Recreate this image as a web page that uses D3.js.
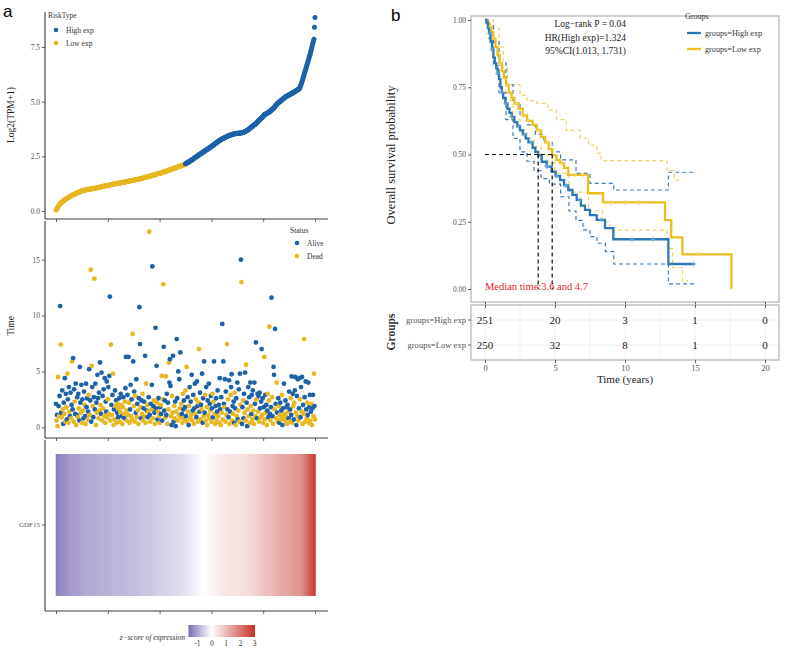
<!DOCTYPE html>
<html><head><meta charset="utf-8">
<script src="https://cdn.jsdelivr.net/npm/d3@7"></script>
<style>body{margin:0;background:#fff}svg{display:block}</style></head>
<body><svg id="c" width="800" height="651"></svg>
<script>
// ---------- DATA: panel a ----------
const riskGroups = ["Low exp", "High exp"];
const riskCounts = [250, 251];
const expr = [
0.05,0.09,0.12,0.15,0.19,0.23,0.28,0.31,0.34,0.36,
0.38,0.40,0.42,0.44,0.46,0.48,0.50,0.51,0.53,0.55,
0.56,0.58,0.59,0.61,0.62,0.64,0.65,0.66,0.68,0.69,
0.70,0.71,0.73,0.74,0.75,0.76,0.77,0.79,0.80,0.81,
0.82,0.83,0.84,0.85,0.86,0.87,0.88,0.89,0.90,0.91,
0.92,0.93,0.93,0.94,0.95,0.95,0.96,0.96,0.97,0.97,
0.98,0.98,0.99,0.99,1.00,1.00,1.00,1.01,1.01,1.02,
1.02,1.02,1.03,1.03,1.04,1.04,1.05,1.05,1.06,1.06,
1.07,1.07,1.08,1.08,1.09,1.10,1.10,1.11,1.11,1.12,
1.12,1.13,1.13,1.14,1.14,1.15,1.15,1.16,1.16,1.17,
1.17,1.18,1.18,1.19,1.19,1.20,1.20,1.21,1.21,1.22,
1.22,1.23,1.23,1.24,1.24,1.25,1.25,1.26,1.26,1.27,
1.27,1.27,1.28,1.28,1.28,1.29,1.29,1.30,1.30,1.31,
1.31,1.32,1.32,1.33,1.33,1.34,1.34,1.35,1.35,1.36,
1.36,1.37,1.37,1.38,1.38,1.39,1.39,1.40,1.40,1.41,
1.41,1.42,1.42,1.43,1.43,1.44,1.44,1.45,1.45,1.46,
1.46,1.46,1.47,1.48,1.48,1.49,1.50,1.50,1.51,1.52,
1.52,1.53,1.54,1.54,1.55,1.56,1.56,1.57,1.57,1.58,
1.58,1.59,1.60,1.60,1.61,1.62,1.63,1.63,1.64,1.65,
1.65,1.66,1.67,1.68,1.68,1.69,1.70,1.70,1.71,1.72,
1.72,1.73,1.74,1.75,1.75,1.76,1.77,1.78,1.79,1.79,
1.80,1.81,1.82,1.83,1.83,1.84,1.85,1.86,1.87,1.87,
1.88,1.89,1.90,1.91,1.92,1.93,1.93,1.94,1.95,1.96,
1.97,1.98,1.98,1.99,2.00,2.01,2.02,2.03,2.03,2.04,
2.05,2.06,2.07,2.08,2.09,2.10,2.10,2.11,2.12,2.13,
2.16,2.17,2.19,2.20,2.22,2.23,2.24,2.26,2.27,2.29,
2.30,2.32,2.33,2.35,2.37,2.38,2.40,2.42,2.43,2.45,
2.47,2.48,2.50,2.52,2.53,2.55,2.57,2.58,2.60,2.62,
2.63,2.65,2.66,2.68,2.70,2.71,2.73,2.74,2.76,2.78,
2.79,2.81,2.82,2.84,2.86,2.87,2.89,2.90,2.92,2.94,
2.95,2.97,2.99,3.00,3.02,3.04,3.06,3.07,3.09,3.11,
3.13,3.14,3.16,3.18,3.20,3.21,3.23,3.25,3.26,3.27,
3.29,3.30,3.31,3.32,3.34,3.35,3.36,3.37,3.38,3.40,
3.41,3.42,3.43,3.44,3.45,3.46,3.47,3.48,3.48,3.49,
3.50,3.51,3.51,3.52,3.52,3.53,3.53,3.54,3.54,3.55,
3.55,3.55,3.56,3.56,3.56,3.57,3.57,3.57,3.58,3.58,
3.58,3.59,3.60,3.61,3.62,3.63,3.65,3.66,3.67,3.69,
3.70,3.72,3.74,3.76,3.78,3.80,3.82,3.84,3.86,3.87,
3.89,3.91,3.93,3.94,3.96,3.98,4.00,4.03,4.05,4.08,
4.10,4.13,4.15,4.18,4.20,4.22,4.24,4.26,4.28,4.30,
4.33,4.37,4.40,4.42,4.43,4.44,4.45,4.46,4.48,4.49,
4.50,4.52,4.54,4.56,4.58,4.60,4.62,4.64,4.66,4.68,
4.70,4.73,4.76,4.79,4.82,4.85,4.87,4.90,4.93,4.95,
4.97,4.99,5.00,5.02,5.04,5.06,5.08,5.10,5.12,5.14,
5.16,5.18,5.20,5.22,5.24,5.25,5.26,5.27,5.29,5.30,
5.31,5.32,5.34,5.35,5.36,5.37,5.38,5.40,5.42,5.43,
5.45,5.46,5.48,5.49,5.51,5.52,5.54,5.55,5.57,5.58,
5.60,5.66,5.72,5.79,5.85,5.92,6.00,6.08,6.16,6.24,
6.32,6.40,6.48,6.56,6.64,6.72,6.80,6.88,6.96,7.05,
7.12,7.20,7.30,7.40,7.50,7.60,7.70,7.78,7.85,8.40,
8.85];
const survTime = [
2.1,0.6,1.1,0.1,4.5,1.9,1.0,2.8,10.85,7.4,1.3,0.9,3.3,1.6,0.3,2.2,1.2,4.4,0.5,3.0,
1.8,0.7,4.8,2.5,0.4,3.6,1.4,1.0,3.1,0.8,2.0,5.9,1.6,6.2,0.5,3.4,2.3,1.2,3.9,0.2,
1.1,2.7,0.9,3.0,1.7,0.6,5.4,2.2,1.3,3.8,0.4,2.5,1.5,0.8,3.2,2.0,1.0,0.3,3.9,1.8,
2.6,0.7,1.4,2.9,5.2,1.1,2.4,14.1,0.5,5.5,3.6,1.9,0.9,2.7,13.3,1.6,3.9,0.2,2.2,1.3,
4.7,2.6,0.8,3.1,1.5,5.8,2.0,1.2,4.9,0.6,2.8,1.7,3.4,1.0,4.4,0.4,2.3,1.4,4.1,0.9,
2.5,3.6,1.2,4.6,11.7,0.6,7.4,2.0,1.1,2.9,4.8,0.2,1.6,0.7,3.3,1.9,2.4,0.4,1.3,2.1,
0.9,1.7,2.6,0.5,1.4,3.0,2.0,1.0,0.3,1.8,2.7,1.2,0.8,2.3,3.5,6.3,1.5,0.6,2.9,1.1,
6.3,2.2,0.4,1.6,3.8,1.0,2.5,0.7,8.35,5.9,1.9,3.2,0.5,2.8,1.3,4.3,0.9,2.1,1.5,0.3,
2.6,10.75,7.45,1.8,0.8,2.4,1.2,3.0,0.6,1.7,2.3,1.0,6.4,0.4,3.9,1.5,2.0,0.9,1.4,2.7,
17.5,1.1,0.5,2.1,1.6,3.8,14.4,0.8,1.9,2.4,1.3,0.3,8.9,1.7,5.5,2.2,0.7,1.4,2.6,1.0,
0.4,1.8,2.0,1.2,4.6,0.6,2.5,12.8,7.2,1.5,2.4,0.9,4.55,1.1,3.0,0.3,2.2,1.6,5.8,4.0,
6.1,3.7,1.0,0.2,2.8,1.3,6.4,0.5,1.9,0.8,2.3,0.1,1.4,7.9,2.6,0.6,5.0,1.1,4.3,1.7,
6.7,0.9,2.1,1.2,0.4,3.0,1.6,2.4,0.7,1.8,3.3,1.0,5.4,0.5,2.7,1.4,0.2,1.9,3.6,0.8,
2.3,1.1,4.7,0.6,1.5,2.9,0.3,1.7,3.9,1.2,2.5,0.9,4.1,1.9,0.5,2.2,7.0,1.4,3.1,0.7,
2.0,1.6,4.8,0.4,2.6,1.0,5.9,1.3,2.9,0.6,3.6,1.8,0.2,2.4,1.1,3.9,0.8,2.1,1.5,2.8,
0.5,1.7,3.0,0.9,2.3,5.9,1.2,0.3,1.9,2.6,0.6,1.4,3.3,1.0,2.0,0.4,4.4,1.6,0.2,2.7,
1.3,9.25,0.7,5.9,2.1,1.8,4.3,0.5,3.2,1.1,7.45,1.6,2.5,0.9,4.2,0.3,1.4,2.9,3.6,4.75,
0.6,1.9,1.2,2.3,0.4,3.1,1.7,0.2,2.6,1.0,4.0,0.7,1.5,3.4,0.5,4.8,2.0,15.0,13.0,0.3,
1.8,2.4,0.8,3.0,1.3,4.9,0.6,5.6,2.2,0.1,1.6,3.6,1.0,2.7,0.4,4.0,1.9,1.2,2.9,0.7,
3.3,1.5,0.3,4.0,2.1,1.0,7.6,2.5,0.8,3.0,1.4,2.8,0.5,3.1,1.7,0.9,2.3,7.0,1.1,2.6,
0.4,1.8,6.3,0.7,2.9,1.3,2.0,0.2,1.5,3.0,0.9,2.4,9.0,1.2,0.6,1.8,11.6,2.7,1.0,0.3,
5.4,4.7,1.6,8.8,2.1,0.8,4.0,1.3,0.5,2.6,1.9,0.4,1.1,2.2,0.7,1.5,2.9,0.2,1.7,0.9,
3.9,1.2,0.6,2.4,1.0,1.8,0.3,2.0,1.4,0.8,3.2,0.5,1.6,2.6,1.1,4.55,0.4,3.0,1.9,0.7,
2.2,3.3,4.5,1.3,0.2,2.8,1.0,4.3,0.6,1.7,4.4,2.5,0.9,3.6,1.4,4.5,0.3,2.0,1.2,7.9,
2.7,0.5,4.1,1.6,0.8,2.2,1.1,4.0,0.4,1.8,2.9,0.6,1.4,2.1,0.2,1.7,2.9,1.0,4.8,1.9,
0.7];
// A = Alive, D = Dead
const survStatus = (
"ADADDADAADADADAADADA"+"DADADADAADADAADADAAD"+"AADADAAADADADAADADAA"+"ADADADADADADAADAADAD"+
"AADADADAADADADADAAAD"+"DADAADDADADDADADADAD"+"ADADDADADDADADAADDAD"+"ADDAADADDADADDAADADD"+
"AAADAADDDAADADDADADA"+"DADADAADADADAAADADAD"+"DADADADDAAADDAADADDA"+"AADADDAADDAADAADADAD"+
"ADDADDAADADADDADADAD"+"ADADAADAADDAAADDDAAD"+"ADAAADAADDADDADADADA"+"DADADADDAADAADADAADA"+
"DADAADADADDADAADADAA"+"DADAADADADAADADADADA"+"ADAADADDAADADADADAAD"+"ADDAADADAADADAADAADA"+
"DADDADADADADDADAADAD"+"AADAADDADADADADADAAD"+"ADDADADADAADADAADADA"+"DAADAADADAADAADADADD"+
"ADAADDAADAADADDAADDA"+"D").split("");
const statusNames = {A: "Alive", D: "Dead"};
const geneName = "GDF15";
const zLegendTicks = [-1, 0, 1, 2, 3];
const exprTicks = [0, 2.5, 5, 7.5];
const timeTicks = [0, 5, 10, 15];
const sampleTicks = [0, 100, 200, 300, 400, 500];

// ---------- DATA: panel b ----------
const kmGroups = ["groups=High exp", "groups=Low exp"];
const highT = [0,0.1,0.2,0.3,0.4,0.5,0.6,0.7,0.8,0.9,1.0,1.1,1.2,1.3,1.45,1.6,1.75,1.9,2.1,2.3,2.5,2.7,2.9,3.1,3.4,3.6,3.8,4.05,4.4,4.76,5.05,5.36,5.65,5.95,6.25,6.55,6.85,7.14,7.5,7.98,8.57,9.17,13.1,15.0];
const highS = [1.00,0.99,0.97,0.95,0.92,0.89,0.86,0.84,0.82,0.80,0.78,0.75,0.73,0.71,0.69,0.67,0.655,0.64,0.62,0.605,0.59,0.575,0.56,0.545,0.525,0.51,0.497,0.473,0.455,0.436,0.42,0.405,0.385,0.368,0.35,0.331,0.31,0.294,0.275,0.257,0.226,0.185,0.093,0.093];
const highUpT = [0,0.3,0.6,1.0,1.5,2.0,2.5,3.0,3.6,4.2,4.8,5.4,6.5,7.5,9.2,13.1,15.0];
const highUpS = [1.0,0.98,0.92,0.84,0.76,0.69,0.645,0.61,0.575,0.545,0.51,0.48,0.43,0.393,0.368,0.434,0.434];
const highLoT = [0,0.3,0.6,1.0,1.5,2.0,2.5,3.0,3.5,4.0,4.6,5.4,6.0,6.5,7.0,7.5,8.0,8.6,9.2,13.1,15.0];
const highLoS = [1.0,0.93,0.83,0.73,0.63,0.56,0.51,0.475,0.44,0.41,0.39,0.343,0.29,0.255,0.22,0.195,0.17,0.139,0.093,0.019,0.019];
const lowT = [0,0.15,0.3,0.45,0.6,0.75,0.9,1.05,1.2,1.35,1.5,1.7,1.9,2.1,2.4,2.7,3.0,3.4,3.7,4.0,4.3,4.55,4.8,5.1,5.36,5.65,5.95,7.36,8.43,12.86,13.3,14.1,17.6];
const lowS = [1.0,0.99,0.975,0.955,0.93,0.90,0.87,0.84,0.81,0.785,0.76,0.73,0.71,0.69,0.67,0.645,0.625,0.61,0.59,0.565,0.545,0.52,0.497,0.48,0.467,0.45,0.424,0.356,0.322,0.256,0.192,0.129,0.0];
const lowUpT = [0,0.3,0.6,1.0,1.3,1.6,2.5,3.0,3.7,4.5,5.1,5.8,6.8,7.4,8.0,8.3,13.0,13.5,14.1];
const lowUpS = [1.0,1.0,0.97,0.90,0.82,0.76,0.72,0.70,0.69,0.665,0.63,0.59,0.56,0.535,0.505,0.477,0.44,0.405,0.405];
const lowLoT = [0,0.3,0.6,1.0,1.5,2.0,2.5,3.0,3.5,4.0,4.5,5.0,6.0,7.4,8.4,8.9,13.0,13.4,14.1,14.5];
const lowLoS = [1.0,0.96,0.89,0.79,0.70,0.63,0.59,0.56,0.53,0.50,0.47,0.43,0.36,0.29,0.25,0.219,0.15,0.08,0.03,0.03];
const highCensor = [0.3,0.5,0.9,1.2,1.5,1.9,2.4,2.8,3.3,4.4,5.1,5.8,6.8,8.3,10.5,12.0,14.9];
const lowCensor = [0.4,0.7,1.1,1.6,2.2,2.7,3.1,3.8,4.4,5.5,6.4,7.0,9.0,10.0,11.0,15.2];
const medianTimes = [3.8, 4.8];
const riskTimes = [0, 5, 10, 15, 20];
const riskHigh = [251, 20, 3, 1, 0];
const riskLow = [250, 32, 8, 1, 0];
const kmYTicks = [0, 0.25, 0.5, 0.75, 1.0];
const statLines = ["Log\u2212rank P = 0.04", "HR(High exp)=1.324", "95%CI(1.013, 1.731)"];
const medianLabel = "Median time:3.6 and 4.7";

if (expr.length !== 501 || survTime.length !== 501 || survStatus.length !== 501)
  throw new Error("length mismatch " + expr.length + " " + survTime.length + " " + survStatus.length);

// ---------- STYLE ----------
const serif = "'Liberation Serif','DejaVu Serif',serif";
const sans = "'Liberation Sans',Arial,sans-serif";
const BLUE = "#1d62a7", YEL = "#e6b822";
const KBLUE = "#2b78b8", KYEL = "#ebbd1e";
const AX = "#3a3a3a", TK = "#555";

const svg = d3.select("#c");

// panel letters
svg.append("text").attr("x", 3).attr("y", 17).attr("font-family", sans).attr("font-size", 17).text("a");
svg.append("text").attr("x", 391).attr("y", 21).attr("font-family", sans).attr("font-size", 17).text("b");

// ---------- panel a ----------
const riskType = [];
riskGroups.forEach((g, k) => { for (let i = 0; i < riskCounts[k]; i++) riskType.push(g); });
const xA = d3.scaleLinear().domain([0, 500]).range([56, 315]);
const yE = d3.scaleLinear().domain([0, 7.5]).range([211, 47]);
const yT = d3.scaleLinear().domain([0, 15]).range([427.3, 259.7]);
const riskCol = d3.scaleOrdinal().domain(["High exp", "Low exp"]).range([BLUE, YEL]);
const statCol = d3.scaleOrdinal().domain(["Alive", "Dead"]).range([BLUE, YEL]);

function styleAxis(g) {
  g.select(".domain").remove();
  g.selectAll("line").attr("stroke", AX).attr("stroke-width", 0.8);
  g.selectAll("text").attr("font-family", serif).attr("font-size", 7.5).attr("fill", TK);
}
function frameA(top, bottom) {
  svg.append("line").attr("x1", 45).attr("x2", 45).attr("y1", top).attr("y2", bottom).attr("stroke", AX).attr("stroke-width", 1.1);
  svg.append("line").attr("x1", 45).attr("x2", 328).attr("y1", bottom).attr("y2", bottom).attr("stroke", AX).attr("stroke-width", 1.1);
  svg.append("g").attr("transform", `translate(0,${bottom})`)
    .call(d3.axisBottom(xA).tickValues(sampleTicks).tickSize(3).tickFormat(""))
    .call(styleAxis);
}
// top
frameA(12, 219);
svg.append("g").attr("transform", "translate(45,0)")
  .call(d3.axisLeft(yE).tickValues(exprTicks).tickSize(3).tickPadding(2).tickFormat(d3.format(".1f")))
  .call(styleAxis);
svg.append("g").selectAll("circle").data(expr).join("circle")
  .attr("cx", (d, i) => xA(i)).attr("cy", d => yE(d)).attr("r", 2.5)
  .attr("fill", (d, i) => riskCol(riskType[i]));
svg.append("text").attr("transform", "translate(14,115) rotate(-90)").attr("text-anchor", "middle")
  .attr("font-family", serif).attr("font-size", 9.5).attr("fill", "#222").text("Log2(TPM+1)");
// legend RiskType
svg.append("text").attr("x", 48).attr("y", 18).attr("font-family", serif).attr("font-size", 7.5).attr("fill", "#333").text("RiskType");
["High exp", "Low exp"].forEach((g, k) => {
  svg.append("circle").attr("cx", 56).attr("cy", 30 + k * 13).attr("r", 2.3).attr("fill", riskCol(g));
  svg.append("text").attr("x", 66).attr("y", 33 + k * 13).attr("font-family", serif).attr("font-size", 7.5).attr("fill", "#333").text(g);
});

// middle
frameA(221, 438);
svg.append("g").attr("transform", "translate(45,0)")
  .call(d3.axisLeft(yT).tickValues(timeTicks).tickSize(3).tickPadding(2))
  .call(styleAxis);
svg.append("g").selectAll("circle").data(survTime).join("circle")
  .attr("cx", (d, i) => xA(i)).attr("cy", d => yT(d)).attr("r", 2.4)
  .attr("fill", (d, i) => statCol(statusNames[survStatus[i]]));
svg.append("text").attr("transform", "translate(14,326) rotate(-90)").attr("text-anchor", "middle")
  .attr("font-family", serif).attr("font-size", 9.5).attr("fill", "#222").text("Time");
svg.append("text").attr("x", 290).attr("y", 233).attr("font-family", serif).attr("font-size", 7.5).attr("fill", "#333").text("Status");
["Alive", "Dead"].forEach((g, k) => {
  svg.append("circle").attr("cx", 297).attr("cy", 243 + k * 13).attr("r", 2.3).attr("fill", statCol(g));
  svg.append("text").attr("x", 307).attr("y", 246 + k * 13).attr("font-family", serif).attr("font-size", 7.5).attr("fill", "#333").text(g);
});

// heatmap
frameA(440, 611);
const mean = d3.mean(expr), sd = d3.deviation(expr);
const zs = expr.map(v => (v - mean) / sd);
const heatCol = d3.scaleLinear().domain([-1.6, 0, 3.1]).range(["#7b6cb4", "#ffffff", "#c62f27"]).clamp(true);
const yH = d3.scaleBand().domain([geneName]).range([454, 596]);
const cw = xA(1) - xA(0);
svg.append("g").selectAll("rect").data(zs).join("rect")
  .attr("x", (d, i) => xA(i) - cw / 2).attr("width", cw + 0.4)
  .attr("y", yH(geneName)).attr("height", yH.bandwidth())
  .attr("fill", d => heatCol(d));
svg.append("g").attr("transform", "translate(45,0)")
  .call(d3.axisLeft(yH).tickSize(3).tickPadding(2))
  .call(styleAxis).selectAll("text").attr("font-size", 7);
// colour legend
const lgX = d3.scaleLinear().domain([-1, 3]).range([197, 254]);
const defs = svg.append("defs");
const grad = defs.append("linearGradient").attr("id", "zg");
d3.range(0, 1.0001, 0.05).forEach(t => {
  const v = -1.6 + t * (3.07 + 1.6);
  grad.append("stop").attr("offset", t).attr("stop-color", heatCol(v));
});
svg.append("rect").attr("x", lgX(-1.6)).attr("y", 625).attr("width", lgX(3.07) - lgX(-1.6)).attr("height", 12).attr("fill", "url(#zg)");
svg.append("g").attr("transform", "translate(0,637)")
  .call(d3.axisBottom(lgX).tickValues(zLegendTicks).tickSize(0).tickPadding(4).tickFormat(d => String(d)))
  .call(g => { g.select(".domain").remove(); g.selectAll("text").attr("font-family", serif).attr("font-size", 7.5).attr("fill", "#333"); });
svg.append("text").attr("x", 185).attr("y", 640).attr("text-anchor", "end").attr("font-family", serif)
  .attr("font-style", "italic").attr("font-size", 7.5).attr("fill", "#333").text("z\u2212score of expression");

// ---------- panel b ----------
const xK = d3.scaleLinear().domain([0, 20]).range([485, 765]);
const yK = d3.scaleLinear().domain([0, 1]).range([289, 20]);
const step = d3.line().x(d => xK(d[0])).y(d => yK(d[1])).curve(d3.curveStepAfter);
const zip = (t, s) => t.map((v, i) => [v, s[i]]);
const stepAt = (t, s, x) => { let v = s[0]; for (let i = 0; i < t.length; i++) if (t[i] <= x) v = s[i]; return v; };

svg.append("rect").attr("x", 471).attr("y", 16).attr("width", 308).attr("height", 286)
  .attr("fill", "none").attr("stroke", "#bdbdbd").attr("stroke-width", 1.4);
svg.append("g").attr("transform", "translate(471,0)")
  .call(d3.axisLeft(yK).tickValues(kmYTicks).tickSize(3).tickPadding(2).tickFormat(d3.format(".2f")))
  .call(styleAxis);
svg.append("g").attr("transform", "translate(0,302)")
  .call(d3.axisBottom(xK).tickValues(riskTimes).tickSize(3).tickFormat(""))
  .call(styleAxis);

// CI dashed
const ciDefs = [
  [lowUpT, lowUpS, "#efd261"], [lowLoT, lowLoS, "#efd261"],
  [highUpT, highUpS, "#3b7cb5"], [highLoT, highLoS, "#3b7cb5"]];
ciDefs.forEach(([t, s, c]) => {
  svg.append("path").attr("d", step(zip(t, s))).attr("fill", "none").attr("stroke", c)
    .attr("stroke-width", 1.2).attr("stroke-dasharray", "4,3");
});
// curves
svg.append("path").attr("d", step(zip(lowT, lowS))).attr("fill", "none").attr("stroke", KYEL).attr("stroke-width", 2.3);
svg.append("path").attr("d", step(zip(highT, highS))).attr("fill", "none").attr("stroke", KBLUE).attr("stroke-width", 2.3);
// censor marks
[[lowCensor, lowT, lowS, "#f3d35c"], [highCensor, highT, highS, "#6aaee0"]].forEach(([cs, t, s, c]) => {
  cs.forEach(x => {
    const px = xK(x), py = yK(stepAt(t, s, x));
    svg.append("path").attr("d", `M${px},${py - 2.5}V${py + 2.5}M${px - 2.5},${py}H${px + 2.5}`)
      .attr("stroke", c).attr("stroke-width", 0.9);
  });
});
// median lines
svg.append("path").attr("d", `M${xK(0)},${yK(0.5)}H${xK(d3.max(medianTimes))}`)
  .attr("stroke", "#111").attr("stroke-width", 1.2).attr("stroke-dasharray", "4,3").attr("fill", "none");
medianTimes.forEach(m => svg.append("path").attr("d", `M${xK(m)},${yK(0.5)}V${yK(0)}`)
  .attr("stroke", "#111").attr("stroke-width", 1.2).attr("stroke-dasharray", "4,3").attr("fill", "none"));
svg.append("text").attr("x", xK(0)).attr("y", 290).attr("font-family", serif).attr("font-size", 10.5)
  .attr("fill", "#e0262b").text(medianLabel);
// stats text
statLines.forEach((s, k) => svg.append("text").attr("x", 626).attr("y", 27 + k * 13.5).attr("text-anchor", "end")
  .attr("font-family", serif).attr("font-size", 9.5).attr("fill", "#222").text(s));
// legend
svg.append("text").attr("x", 685).attr("y", 19).attr("font-family", serif).attr("font-size", 8).attr("fill", "#333").text("Groups");
[[kmGroups[0], KBLUE], [kmGroups[1], KYEL]].forEach(([g, c], k) => {
  const yy = 33 + k * 16;
  svg.append("line").attr("x1", 687).attr("x2", 701).attr("y1", yy).attr("y2", yy).attr("stroke", c).attr("stroke-width", 2.3);
  svg.append("text").attr("x", 705).attr("y", yy + 3).attr("font-family", serif).attr("font-size", 8.2).attr("fill", "#333").text(g);
});
svg.append("text").attr("transform", "translate(395,155) rotate(-90)").attr("text-anchor", "middle")
  .attr("font-family", serif).attr("font-size", 12.5).attr("fill", "#222").text("Overall survival probability");

// risk table
const yR = d3.scaleBand().domain(kmGroups).range([307.5, 357.5]);
svg.append("g").selectAll("line").data(d3.range(0, 20.01, 2.5)).join("line")
  .attr("x1", d => xK(d)).attr("x2", d => xK(d)).attr("y1", 305).attr("y2", 360)
  .attr("stroke", "#eeeeee").attr("stroke-width", 0.8);
kmGroups.forEach(g => svg.append("line").attr("x1", 471).attr("x2", 779)
  .attr("y1", yR(g) + yR.bandwidth() / 2).attr("y2", yR(g) + yR.bandwidth() / 2).attr("stroke", "#eeeeee"));
svg.append("rect").attr("x", 471).attr("y", 305).attr("width", 308).attr("height", 55)
  .attr("fill", "none").attr("stroke", "#bdbdbd").attr("stroke-width", 1.4);
[[kmGroups[0], riskHigh], [kmGroups[1], riskLow]].forEach(([g, arr]) => {
  arr.forEach((n, i) => svg.append("text").attr("x", xK(riskTimes[i])).attr("y", yR(g) + yR.bandwidth() / 2 + 4)
    .attr("text-anchor", "middle").attr("font-family", serif).attr("font-size", 11).attr("fill", "#222").text(n));
});
svg.append("g").attr("transform", "translate(471,0)")
  .call(d3.axisLeft(yR).tickSize(3).tickPadding(2))
  .call(styleAxis).selectAll("text").attr("font-size", 8.6);
svg.append("g").attr("transform", "translate(0,360)")
  .call(d3.axisBottom(xK).tickValues(riskTimes).tickSize(3).tickPadding(2))
  .call(styleAxis).selectAll("text").attr("font-size", 8.5);
svg.append("g").attr("transform", "translate(0,305)")
  .call(d3.axisTop(xK).tickValues(riskTimes).tickSize(-3).tickFormat(""))
  .call(styleAxis);
svg.append("text").attr("x", 625).attr("y", 383).attr("text-anchor", "middle").attr("font-family", serif)
  .attr("font-size", 11).attr("fill", "#222").text("Time (years)");
svg.append("text").attr("transform", "translate(395,332) rotate(-90)").attr("text-anchor", "middle")
  .attr("font-family", serif).attr("font-size", 11.5).attr("font-weight", "bold").attr("fill", "#333").text("Groups");
</script></body></html>
